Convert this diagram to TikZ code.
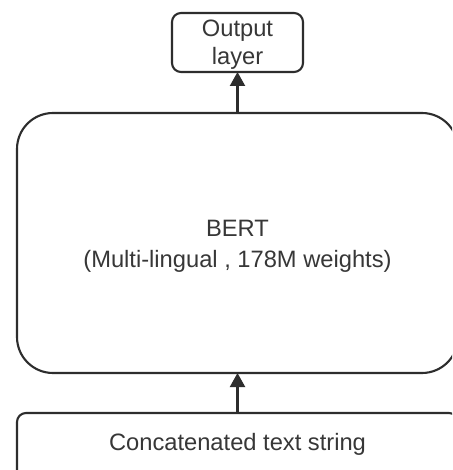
\documentclass[tikz,border=0pt]{standalone}
\usepackage{fontspec}
\setmainfont{Liberation Sans}
\usetikzlibrary{arrows.meta}
\definecolor{linec}{RGB}{45,45,45}
\definecolor{textc}{RGB}{55,55,55}
\begin{document}
\begin{tikzpicture}[x=1pt,y=-1pt,
  boxline/.style={draw=linec,line width=2.1pt},
  lbl/.style={text=textc,font=\fontsize{23.7}{31}\selectfont,align=center},
  lbltight/.style={text=textc,font=\fontsize{23.7}{28}\selectfont,align=center},
  arr/.style={draw=linec,line width=2.1pt,-{Triangle[length=14pt,width=15pt]}}]
\useasboundingbox (0,0) rectangle (452,470);
\clip (0,0) rectangle (452,470);
\fill[white] (0,0) rectangle (452,470);
% Output layer
\draw[boxline,rounded corners=9pt] (172,13) rectangle (303,72);
\node[lbltight] (out) at (237.5,45) {Output\\layer};
\coordinate (outb) at (237.5,72);
% BERT
\draw[boxline,rounded corners=36pt] (17,113) rectangle (458,373);
\node[lbl] (bert) at (237.5,246.5) {BERT\\(Multi-lingual , 178M weights)};
\coordinate (bertt) at (237.5,113);
\coordinate (bertb) at (237.5,373);
% Bottom
\draw[boxline,rounded corners=9pt] (17,413) rectangle (458,520);
\node[lbl] (inp) at (237.5,444) {Concatenated text string};
\coordinate (inpt) at (237.5,413);
% arrows
\draw[arr] (inpt) -- (bertb);
\draw[arr] (bertt) -- (outb);
\end{tikzpicture}
\end{document}
